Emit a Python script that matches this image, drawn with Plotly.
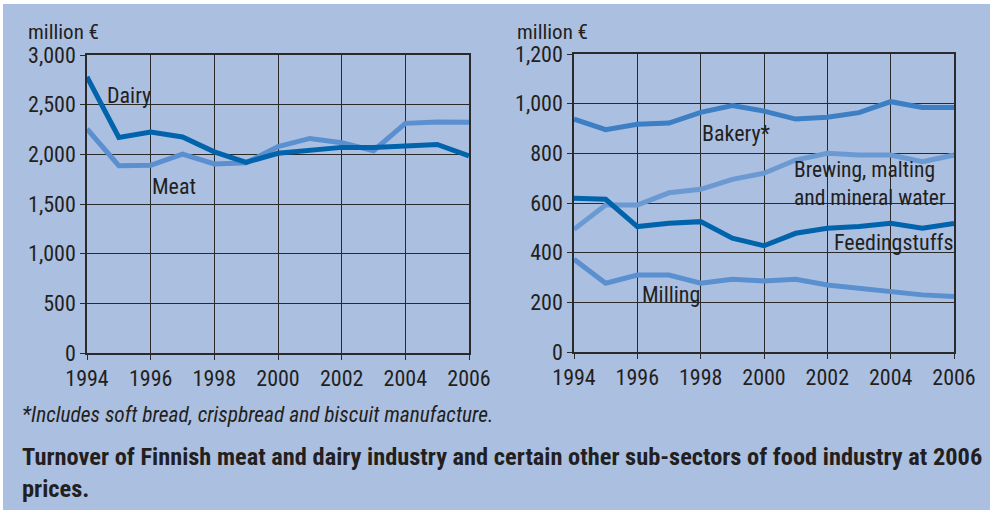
import plotly.graph_objects as go

years = list(range(1994, 2007))
dairy = [2780, 2170, 2225, 2175, 2025, 1920, 2010, 2040, 2070, 2070, 2080, 2100, 1985]
meat = [2255, 1886, 1890, 2003, 1903, 1916, 2077, 2160, 2117, 2037, 2312, 2325, 2322]
bakery = [938, 895, 917, 922, 965, 992, 970, 938, 945, 964, 1008, 985, 985]
brewing = [494, 592, 592, 641, 655, 695, 720, 773, 800, 793, 793, 766, 793]
feeding = [619, 615, 505, 518, 525, 458, 428, 478, 498, 505, 518, 498, 518]
milling = [373, 277, 310, 310, 277, 293, 286, 293, 270, 256, 243, 230, 223]

left_ticks = [0, 500, 1000, 1500, 2000, 2500, 3000]
right_ticks = [0, 200, 400, 600, 800, 1000, 1200]
x_ticks = [1994, 1996, 1998, 2000, 2002, 2004, 2006]

FONT = "Roboto Condensed, Liberation Sans, Arial, sans-serif"
TXT = "#231f20"
OUTER = "#abbfe1"
INNER = "#c6d4ee"
DARK = "#0063ac"
LIGHT = "#5a90cf"
MID = "#3d7fc4"
PALE = "#6b9ad3"

fig = go.Figure()
fig.add_trace(go.Scatter(x=years, y=meat, mode="lines", line=dict(color=LIGHT, width=5), xaxis="x", yaxis="y"))
fig.add_trace(go.Scatter(x=years, y=dairy, mode="lines", line=dict(color=DARK, width=5), xaxis="x", yaxis="y"))
fig.add_trace(go.Scatter(x=years, y=brewing, mode="lines", line=dict(color=PALE, width=5), xaxis="x2", yaxis="y2"))
fig.add_trace(go.Scatter(x=years, y=milling, mode="lines", line=dict(color=LIGHT, width=5), xaxis="x2", yaxis="y2"))
fig.add_trace(go.Scatter(x=years, y=bakery, mode="lines", line=dict(color=MID, width=5), xaxis="x2", yaxis="y2"))
fig.add_trace(go.Scatter(x=years, y=feeding, mode="lines", line=dict(color=DARK, width=5), xaxis="x2", yaxis="y2"))

axis_common = dict(showgrid=True, gridcolor="#2a2a2a", gridwidth=1, showline=True, linecolor="#2a2a2a",
                   linewidth=1.5, mirror=True, ticks="outside", ticklen=5, tickcolor="#2a2a2a",
                   tickfont=dict(family=FONT, size=22, color=TXT), zeroline=False, fixedrange=True,
                   automargin=False)

H = 516
W = 994
fig.update_layout(
    width=W, height=H,
    margin=dict(l=0, r=0, t=0, b=0, autoexpand=False),
    paper_bgcolor="white",
    plot_bgcolor=INNER,
    showlegend=False,
    xaxis=dict(domain=[87 / W, 469 / W], range=[1994, 2006], tickvals=x_ticks, anchor="y", **axis_common),
    yaxis=dict(domain=[1 - 353 / H, 1 - 55 / H], range=[0, 3000], tickvals=left_ticks,
               ticktext=[f"{v:,}" for v in left_ticks], anchor="x", **axis_common),
    xaxis2=dict(domain=[574 / W, 954 / W], range=[1994, 2006], tickvals=x_ticks, anchor="y2", **axis_common),
    yaxis2=dict(domain=[1 - 352 / H, 1 - 54 / H], range=[0, 1200], tickvals=right_ticks,
                ticktext=[f"{v:,}" for v in right_ticks], anchor="x2", **axis_common),
    shapes=[dict(type="rect", xref="paper", yref="paper", x0=3 / W, x1=990 / W, y0=1 - 510 / H, y1=1 - 4 / H,
                 fillcolor=OUTER, line=dict(width=0), layer="below")],
)

def ann(text, x, y, xanchor="left", yanchor="middle", size=22, **kw):
    fig.add_annotation(text=text, x=x, y=y, xref="paper", yref="paper", xanchor=xanchor, yanchor=yanchor,
                       showarrow=False, font=dict(family=FONT, size=size, color=TXT), **kw)

ann("million €", 26 / W, 1 - 32 / H, size=21)
ann("million €", 515 / W, 1 - 32 / H, size=21)
ann("Dairy", 105 / W, 1 - 95 / H)
ann("Meat", 150 / W, 1 - 186 / H)
ann("Bakery*", 700 / W, 1 - 133 / H)
ann("Brewing, malting<br>and mineral water", 792 / W, 1 - 184 / H, size=21.5, align="left")
ann("Feedingstuffs", 956 / W, 1 - 243 / H, xanchor="right")
ann("Milling", 640 / W, 1 - 294 / H)
ann("<i>*Includes soft bread, crispbread and biscuit manufacture.</i>", 20 / W, 1 - 414 / H, size=21.4)
ann("<b>Turnover of Finnish meat and dairy industry and certain other sub-sectors of food industry at 2006<br>prices.</b>",
    20 / W, 1 - 472 / H, size=24.4, align="left")

fig.write_html("out.html", post_script="document.body.style.margin='0';document.body.style.overflow='hidden';")
